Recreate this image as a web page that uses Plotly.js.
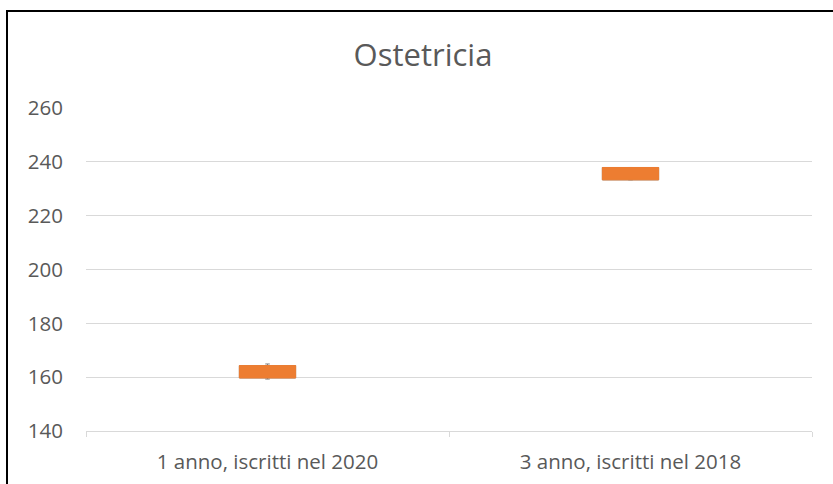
<!DOCTYPE html>
<html>
<head>
<meta charset="utf-8">
<script src="https://cdn.plot.ly/plotly-3.0.1.min.js"></script>
<style>
  html, body { margin: 0; padding: 0; overflow: hidden; background: #fff; }
  #frame { position: absolute; left: 6px; top: 10px; width: 840px; height: 490px; border: 2px solid #000; }
</style>
</head>
<body>
<div id="frame"><div id="plot"></div></div>
<script>
// dati
const categorie = ["1 anno, iscritti nel 2020", "3 anno, iscritti nel 2018"];
const minimo = [159.3, 233.3];
const q1 = [159.7, 233.3];
const mediana = [159.7, 233.3];
const q3 = [164.3, 237.9];
const massimo = [164.9, 237.9];

const grey = "#595959";
const grid = "#D9D9D9";
const orange = "#ED7D31";

const whiskers = {
    type: "box",
    x: categorie,
    q1: q1, median: mediana, q3: q3,
    lowerfence: minimo, upperfence: massimo,
    width: 0.155,
    whiskerwidth: 0.08,
    line: { color: "#7F7F7F", width: 1 },
    fillcolor: "rgba(0,0,0,0)",
    hoverinfo: "skip",
    showlegend: false
};

const boxes = {
    type: "box",
    x: categorie,
    q1: q1, median: mediana, q3: q3,
    lowerfence: q1, upperfence: q3,
    width: 0.155,
    whiskerwidth: 0,
    line: { color: orange, width: 1 },
    fillcolor: orange,
    showlegend: false
};

const layout = {
    width: 830,
    height: 480,
    margin: { l: 78, r: 26, t: 96, b: 61 },
    paper_bgcolor: "#fff",
    plot_bgcolor: "#fff",
    font: { family: "'Open Sans', sans-serif", color: grey, size: 20 },
    title: {
        text: "Ostetricia",
        font: { size: 31, color: grey },
        x: 0.5, xanchor: "center",
        y: 0.91, yanchor: "middle"
    },
    boxmode: "overlay",
    xaxis: {
        type: "category",
        range: [-0.5, 1.5],
        showgrid: false,
        showline: true,
        linecolor: grid,
        linewidth: 1,
        ticks: "outside",
        tickson: "boundaries",
        ticklen: 5,
        tickcolor: grid,
        ticklabelstandoff: 12,
        tickfont: { size: 20.5, color: grey },
        fixedrange: true
    },
    yaxis: {
        range: [140, 260],
        dtick: 20,
        tick0: 140,
        showgrid: true,
        gridcolor: grid,
        gridwidth: 1,
        zeroline: false,
        showline: false,
        ticks: "",
        ticklabelstandoff: 22,
        tickfont: { size: 20.5, color: grey },
        fixedrange: true
    }
};

Plotly.newPlot("plot", [whiskers, boxes], layout, { displayModeBar: false, staticPlot: true });
</script>
</body>
</html>
